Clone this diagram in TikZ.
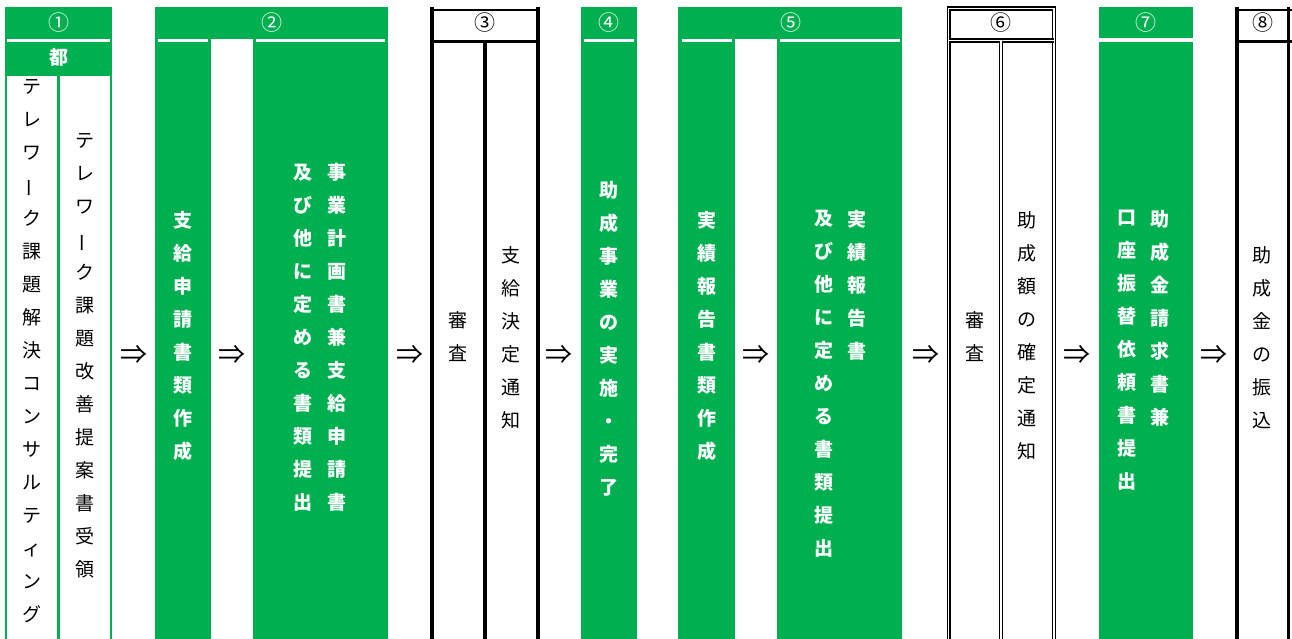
\documentclass[tikz,border=0pt]{standalone}
\usepackage{fontspec}
\newfontfamily\jp{Noto Sans CJK JP}
\definecolor{xgreen}{RGB}{0,176,80}
\newcommand\vlong{\rotatebox[origin=c]{90}{ー}}
\tikzset{
  gbox/.style={fill=xgreen, draw=none},
  wbox/.style={fill=white, draw=none},
  wtxt/.style={text=white, font={\jp\bfseries\fontsize{19}{33}\selectfont}, align=center, inner sep=0pt},
  btxt/.style={text=black, font={\jp\fontsize{19}{33}\selectfont}, align=center, inner sep=0pt},
  wnum/.style={text=white, font={\jp\fontsize{21}{22}\selectfont}, inner sep=0pt},
  bnum/.style={text=black, font={\jp\fontsize{21}{22}\selectfont}, inner sep=0pt},
  arr/.style={text=black, font={\jp\fontsize{27}{28}\selectfont}, inner sep=0pt},
  thickline/.style={draw=black, line width=3.6pt},
  thinline/.style={draw=black, line width=2.2pt},
  dline/.style={draw=black, double=white, line width=1.5pt, double distance=1.4pt},
}
\begin{document}
\begin{tikzpicture}[x=1pt,y=-1pt]
\useasboundingbox (0,0) rectangle (1292,639);
\clip (0,0) rectangle (1292,639);
\fill[white] (0,0) rectangle (1292,639);
% ---------- column 1 ----------
\path[gbox] (5,6.7) rectangle (112.3,650);
\path[wbox] (7.3,39.3) rectangle (110,41.7);
\path[wbox] (7.3,76) rectangle (57,650);
\path[wbox] (59.5,76) rectangle (110,650);
\node[wnum] (h1) at (58.6,22.5) {①};
\node[wtxt] (to) at (58.6,57) {都};
\node[btxt] (t1a) at (32,351) {テ\\レ\\ワ\\\vlong\\ク\\課\\題\\解\\決\\コ\\ン\\サ\\ル\\テ\\ィ\\ン\\グ};
\node[btxt] (t1b) at (85,356) {テ\\レ\\ワ\\\vlong\\ク\\課\\題\\改\\善\\提\\案\\書\\受\\領};
% ---------- column 2 ----------
\path[gbox] (155,6.7) rectangle (387.7,650);
\path[wbox] (158,39.3) rectangle (207.7,41.7);
\path[wbox] (256,39.3) rectangle (385,41.7);
\path[wbox] (211,39.3) rectangle (253.3,650);
\node[wnum] (h2) at (271.5,22.5) {②};
\node[wtxt] (t2a) at (183,336) {支\\給\\申\\請\\書\\類\\作\\成};
\node[wtxt] (t2b) at (337,337.5) {事\\業\\計\\画\\書\\兼\\支\\給\\申\\請\\書};
\node[wtxt] (t2c) at (303,337.5) {及\\び\\他\\に\\定\\め\\る\\書\\類\\提\\出};
% ---------- column 3 ----------
\draw[thinline] (430,10.3) -- (540,10.3);
\draw[thinline] (430,41.5) -- (540,41.5);
\draw[thickline] (432,6.7) -- (432,650);
\draw[thickline] (538,6.7) -- (538,650);
\draw[thickline] (485,41.5) -- (485,650);
\node[bnum] (h3) at (485,22.5) {③};
\node[btxt] (t3a) at (458,337) {審\\査};
\node[btxt] (t3b) at (511,337.5) {支\\給\\決\\定\\通\\知};
% ---------- column 4 ----------
\path[gbox] (581,6.7) rectangle (637,650);
\path[wbox] (584,39.3) rectangle (633.7,41.7);
\node[wnum] (h4) at (609,22.5) {④};
\node[wtxt] (t4) at (609,339) {助\\成\\事\\業\\の\\実\\施\\・\\完\\了};
% ---------- column 5 ----------
\path[gbox] (678.3,6.7) rectangle (902.3,650);
\path[wbox] (682.3,39.3) rectangle (732,41.7);
\path[wbox] (780,39.3) rectangle (900,41.7);
\path[wbox] (735,39.3) rectangle (777,650);
\node[wnum] (h5) at (791,22.5) {⑤};
\node[wtxt] (t5a) at (707,336) {実\\績\\報\\告\\書\\類\\作\\成};
\node[wtxt, anchor=north] (t5b) at (857,210) {実\\績\\報\\告\\書};
\node[wtxt, anchor=north] (t5c) at (824,210) {及\\び\\他\\に\\定\\め\\る\\書\\類\\提\\出};
% ---------- column 6 ----------
\draw[dline] (948.7,650) -- (948.7,8.7) -- (1054,8.7) -- (1054,650);
\draw[dline] (948.7,40.7) -- (1054,40.7);
\draw[dline] (1001,40.7) -- (1001,650);
\node[bnum] (h6) at (1001,22.5) {⑥};
\node[btxt] (t6a) at (975,337) {審\\査};
\node[btxt] (t6b) at (1027,336) {助\\成\\額\\の\\確\\定\\通\\知};
% ---------- column 7 ----------
\path[gbox] (1099,6.7) rectangle (1193,650);
\path[wbox] (1099,38.3) rectangle (1193,41.7);
\node[wnum] (h7) at (1146,22.5) {⑦};
\node[wtxt, anchor=north] (t7a) at (1160,210) {助\\成\\金\\請\\求\\書\\兼};
\node[wtxt, anchor=north] (t7b) at (1127,210) {口\\座\\振\\替\\依\\頼\\書\\提\\出};
% ---------- column 8 ----------
\draw[thinline] (1235,10.3) -- (1292,10.3);
\draw[thinline] (1235,41.5) -- (1292,41.5);
\draw[thickline] (1236.7,6.7) -- (1236.7,650);
\draw[draw=black, line width=2.5pt] (1288.7,6.7) -- (1288.7,650);
\node[bnum] (h8) at (1262.5,22.5) {⑧};
\node[btxt] (t8) at (1262,337.5) {助\\成\\金\\の\\振\\込};
% ---------- arrows ----------
\node[arr] (a1) at (133.5,355) {⇒};
\node[arr] (a2) at (232,355) {⇒};
\node[arr] (a3) at (410,355) {⇒};
\node[arr] (a4) at (559,355) {⇒};
\node[arr] (a5) at (756,355) {⇒};
\node[arr] (a6) at (926,355) {⇒};
\node[arr] (a7) at (1077,355) {⇒};
\node[arr] (a8) at (1214,355) {⇒};
\end{tikzpicture}
\end{document}
